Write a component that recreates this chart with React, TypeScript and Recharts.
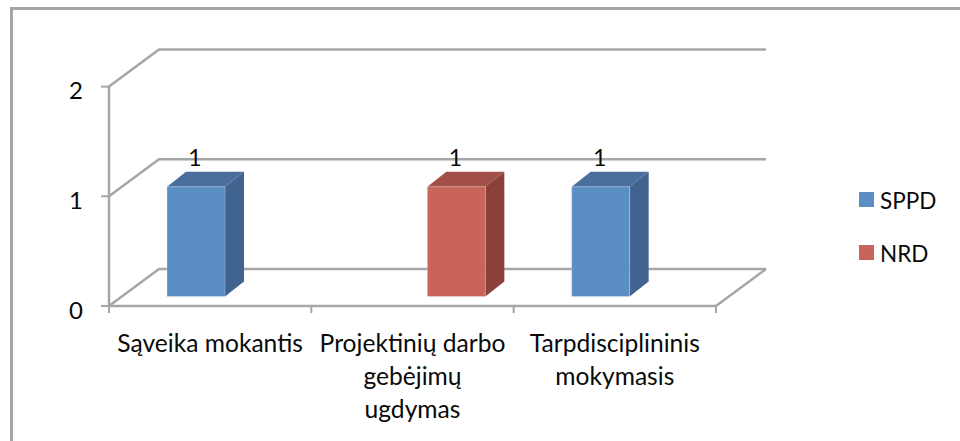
import React from "react";
import {
  Bar,
  BarChart,
  CartesianGrid,
  LabelList,
  Legend,
  XAxis,
  YAxis,
} from "recharts";

const categories = [
  "Sąveika mokantis",
  "Projektinių darbo\ngebėjimų\nugdymas",
  "Tarpdisciplininis\nmokymasis",
];
const sppdValues = [1, null, 1];
const nrdValues = [null, 1, null];
const yTicks = [0, 1, 2];

const chartData = categories.map((name, i) => ({
  name,
  SPPD: sppdValues[i],
  NRD: nrdValues[i],
}));

const FONT = "Lato, 'Open Sans', sans-serif";
const AXIS_COLOR = "#a6a6a6";
const TEXT_COLOR = "#0a0a0a";
const BAND = 607 / categories.length;

// depth of the back wall and of the bars, and how far bars sit off the front plane
const WALL_DX = 50;
const WALL_DY = -37;
const BAR_DX = 19;
const BAR_DY = -15;
const BAR_SHIFT_X = 15;
const BAR_SHIFT_Y = -9.5;

const wallLine = (props: any) => {
  const { x1, x2, y1, index } = props;
  const isFloor = index === 0;
  return (
    <g key={`wall-${index}`} fill="none" stroke={AXIS_COLOR} strokeWidth={2.5}>
      <polyline
        points={`${x1},${y1} ${x1 + WALL_DX},${y1 + WALL_DY} ${x2 + WALL_DX},${y1 + WALL_DY}`}
      />
      {isFloor && (
        <line x1={x2} y1={y1} x2={x2 + WALL_DX} y2={y1 + WALL_DY} />
      )}
    </g>
  );
};

const columnShape = (top: string, side: string) => (props: any) => {
  const { x, y, width, height, fill } = props;
  if (!height) return <g />;
  const l = x + BAR_SHIFT_X;
  const r = l + width;
  const t = y + BAR_SHIFT_Y;
  const b = t + height;
  return (
    <g>
      <polygon
        points={`${l},${t} ${l + BAR_DX},${t + BAR_DY} ${r + BAR_DX},${t + BAR_DY} ${r},${t}`}
        fill={top}
      />
      <polygon
        points={`${r},${t} ${r + BAR_DX},${t + BAR_DY} ${r + BAR_DX},${b + BAR_DY} ${r},${b}`}
        fill={side}
      />
      <rect
        x={l}
        y={t}
        width={width}
        height={height}
        fill={fill}
        stroke="#ffffff"
        strokeOpacity={0.25}
      />
    </g>
  );
};

const barValueLabel = (props: any) => {
  const { x, y, width, value } = props;
  if (value == null) return null;
  return (
    <text
      x={x + width / 2 + BAR_SHIFT_X - 1}
      y={y - 30}
      textAnchor="middle"
      fontFamily={FONT}
      fontSize={23}
      fill={TEXT_COLOR}
    >
      {value}
    </text>
  );
};

const CategoryTick = (props: any) => {
  const { x, y, payload, index } = props;
  const lines = String(payload.value).split("\n");
  return (
    <g>
      <line x1={x - BAND / 2} y1={y - 8} x2={x - BAND / 2} y2={y - 1} stroke={AXIS_COLOR} strokeWidth={2} />
      {index === categories.length - 1 && (
        <line x1={x + BAND / 2} y1={y - 8} x2={x + BAND / 2} y2={y - 1} stroke={AXIS_COLOR} strokeWidth={2} />
      )}
      <text textAnchor="middle" fontFamily={FONT} fontSize={24.6} fill={TEXT_COLOR}>
        {lines.map((line, i) => (
          <tspan key={i} x={x} y={y + 38 + i * 33}>
            {line}
          </tspan>
        ))}
      </text>
    </g>
  );
};

const legendContent = (props: any) => (
  <div style={{ fontFamily: FONT, fontSize: 22.5, color: TEXT_COLOR }}>
    {props.payload.map((item: any) => (
      <div
        key={item.value}
        style={{ display: "flex", alignItems: "center", height: 53 }}
      >
        <span
          style={{
            width: 15,
            height: 15,
            marginRight: 6,
            background: item.color,
          }}
        />
        <span style={{ position: "relative", top: 1 }}>{item.value}</span>
      </div>
    ))}
  </div>
);

export default function App() {
  return (
    <div
      style={{
        position: "absolute",
        left: 0,
        top: 0,
        width: 960,
        height: 441,
        overflow: "hidden",
        background: "#ffffff",
      }}
    >
      <div
        style={{
          position: "absolute",
          left: 10,
          top: 7,
          width: 960,
          height: 450,
          borderTop: `3px solid ${AXIS_COLOR}`,
          borderLeft: `3px solid ${AXIS_COLOR}`,
        }}
      />
      <BarChart
        width={960}
        height={441}
        data={chartData}
        barSize={58}
        barGap={0}
        margin={{ top: 86.6, right: 144, bottom: 0, left: 49 }}
        style={{ position: "absolute", left: 0, top: 0 }}
      >
        <CartesianGrid horizontal={wallLine} vertical={false} />
        <XAxis
          dataKey="name"
          interval={0}
          height={135}
          axisLine={{ stroke: AXIS_COLOR, strokeWidth: 2.5 }}
          tickLine={false}
          tick={CategoryTick}
        />
        <YAxis
          width={60}
          domain={[0, 2]}
          ticks={yTicks}
          axisLine={{ stroke: AXIS_COLOR, strokeWidth: 2.5 }}
          tickLine={{ stroke: AXIS_COLOR, strokeWidth: 2 }}
          tickSize={8}
          tickMargin={18}
          dy={4}
          tick={{ fontFamily: FONT, fontSize: 24, fill: TEXT_COLOR }}
        />
        <Legend
          layout="vertical"
          align="right"
          verticalAlign="top"
          width={100}
          itemSorter={null}
          content={legendContent}
          wrapperStyle={{ top: 173, left: 859, right: "auto" }}
        />
        <Bar
          dataKey="SPPD"
          fill="#5b8ec3"
          isAnimationActive={false}
          shape={columnShape("#4a6f9c", "#41638f")}
        >
          <LabelList dataKey="SPPD" content={barValueLabel} />
        </Bar>
        <Bar
          dataKey="NRD"
          fill="#c9645b"
          isAnimationActive={false}
          shape={columnShape("#a14f48", "#8b4039")}
        >
          <LabelList dataKey="NRD" content={barValueLabel} />
        </Bar>
      </BarChart>
    </div>
  );
}
